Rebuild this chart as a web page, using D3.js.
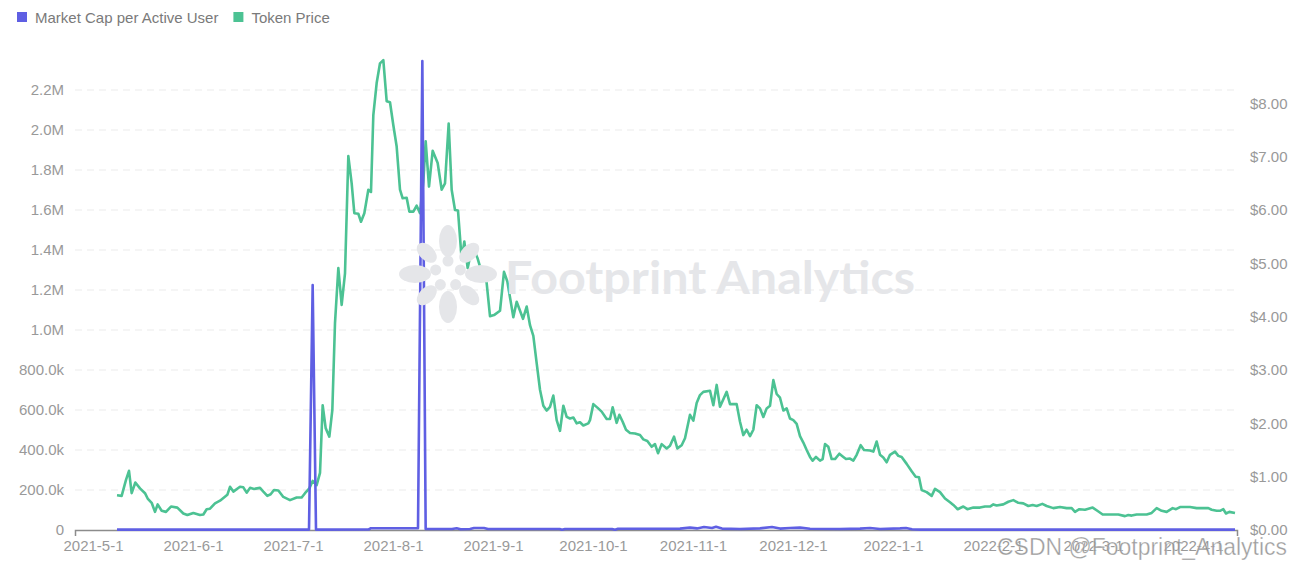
<!DOCTYPE html>
<html>
<head>
<meta charset="utf-8">
<script src="https://cdn.jsdelivr.net/npm/d3@7"></script>
<style>
  body { margin: 0; background: #fff; }
  svg { display: block; font-family: "Liberation Sans", Arial, sans-serif; }
</style>
</head>
<body>
<svg width="1301" height="568"></svg>
<script>
const width = 1301;
const height = 568;
const margin = {top: 60, right: 64, bottom: 38, left: 75};
const plotWidth = width - margin.left - margin.right;
const plotHeight = height - margin.top - margin.bottom;

// x = days since 2021-5-1 (axis labels are spaced every 30 days)
const tickDays = [0, 30, 60, 90, 120, 150, 180, 210, 240, 270, 300, 330];
const tickLabels = ["2021-5-1", "2021-6-1", "2021-7-1", "2021-8-1", "2021-9-1", "2021-10-1",
                    "2021-11-1", "2021-12-1", "2022-1-1", "2022-2-1", "2022-3-1", "2022-4-1"];

const leftTicks = [0, 200000, 400000, 600000, 800000, 1000000, 1200000, 1400000, 1600000, 1800000, 2000000, 2200000];
const leftTickLabels = ["0", "200.0k", "400.0k", "600.0k", "800.0k", "1.0M", "1.2M", "1.4M", "1.6M", "1.8M", "2.0M", "2.2M"];
const rightTicks = [0, 1, 2, 3, 4, 5, 6, 7, 8];

const seriesNames = ["Market Cap per Active User", "Token Price"];
const seriesColors = ["#5f5fe3", "#4cc293"];

// [day, USD]
const tokenPrice = [
  [7.2,0.65],[8.6,0.64],[9.9,0.94],[10.8,1.11],[11.6,0.69],[12.7,0.89],[14.1,0.78],[15.6,0.69],[16.4,0.59],[17.6,0.51],
  [18.6,0.34],[19.4,0.48],[20.6,0.36],[21.9,0.34],[23.4,0.44],[25.3,0.42],[27.1,0.31],[28.3,0.28],[30.1,0.32],[32.1,0.28],
  [33.1,0.29],[34.1,0.39],[35.1,0.40],[36.6,0.50],[38.1,0.55],[39.3,0.61],[40.3,0.66],[41.1,0.81],[42.1,0.72],[44.1,0.81],
  [45.1,0.80],[46.1,0.70],[47.1,0.79],[48.3,0.77],[50.1,0.79],[51.1,0.72],[52.3,0.64],[53.3,0.67],[54.3,0.75],[55.6,0.74],
  [57.1,0.62],[59.1,0.56],[61.1,0.61],[62.6,0.61],[63.6,0.69],[64.9,0.78],[65.9,0.92],[67.1,0.84],[68.1,1.07],[68.9,2.34],
  [69.8,1.91],[70.9,1.75],[71.8,2.25],[72.6,3.88],[73.6,4.91],[74.6,4.22],[75.6,4.81],[76.6,7.01],[77.6,6.50],[78.4,5.94],
  [79.6,5.93],[80.4,5.78],[81.4,5.94],[82.6,6.38],[83.4,6.34],[84.1,7.78],[85.1,8.38],[86.1,8.75],[87.1,8.81],[88.1,8.04],
  [89.1,8.02],[90.1,7.59],[91.1,7.19],[92.1,6.38],[92.9,6.22],[94.1,6.23],[94.9,5.97],[96.1,5.97],[97.1,6.08],[98.1,5.94],
  [99.1,6.53],[99.8,7.29],[100.8,6.44],[101.9,7.11],[103.4,6.88],[104.6,6.38],[105.6,6.50],[106.7,7.62],[107.6,6.38],[108.6,6.00],
  [109.5,5.99],[110.6,5.07],[111.4,5.41],[112.4,4.91],[113.3,5.18],[114.3,5.25],[115.4,5.09],[116.1,4.94],[117.1,4.84],[118.1,4.63],
  [119.1,4.01],[120.3,4.03],[122.1,4.11],[123.3,4.84],[124.3,4.66],[126.1,3.99],[127.1,4.28],[129,3.96],[130.1,4.19],[131.1,3.84],
  [132.1,3.64],[133.1,3.13],[134.1,2.63],[135.1,2.33],[136.1,2.24],[137.1,2.31],[138.1,2.52],[139.1,2.06],[140.1,1.86],[141.1,2.33],
  [142.1,2.12],[143.1,2.09],[144.1,2.11],[145.1,2.00],[146.1,2.02],[147.1,1.96],[148.6,2.00],[149.1,2.06],[150.1,2.36],[151.4,2.29],
  [152.6,2.22],[154.1,2.08],[155.1,2.08],[155.9,2.30],[157.1,2.01],[157.9,2.16],[158.9,2.03],[159.9,1.88],[161.1,1.82],[162.6,1.81],
  [164.1,1.78],[165.1,1.70],[166.3,1.67],[167.6,1.56],[168.6,1.61],[169.5,1.44],[170.6,1.61],[172.1,1.53],[173.1,1.58],[174.3,1.75],
  [175.3,1.53],[176.6,1.59],[177.6,1.72],[179.1,2.16],[180.1,2.05],[181.1,2.38],[182.1,2.53],[183.1,2.59],[185.1,2.61],[186.1,2.34],
  [187.1,2.72],[188.1,2.31],[190.1,2.59],[191.1,2.36],[193.1,2.36],[194.1,2.03],[195.1,1.78],[196.1,1.88],[197.1,1.76],[198.1,1.88],
  [199.1,2.34],[200.1,2.28],[201.1,2.12],[202.1,2.28],[203.1,2.33],[204.1,2.81],[205.1,2.55],[206.1,2.48],[207.1,2.24],[208.1,2.28],
  [209.1,2.09],[210.1,2.06],[211.1,1.99],[212.1,1.76],[213.1,1.64],[214.1,1.50],[215.1,1.37],[215.9,1.30],[216.9,1.37],[218.1,1.30],
  [218.9,1.33],[219.6,1.61],[220.6,1.56],[221.6,1.33],[222.6,1.33],[223.9,1.43],[225.1,1.37],[225.9,1.33],[227.1,1.34],[228.1,1.30],
  [229.1,1.41],[230.3,1.59],[231.3,1.50],[233.1,1.49],[234.1,1.47],[235.1,1.66],[236.1,1.41],[237.1,1.36],[238.1,1.27],[239.1,1.41],
  [240.6,1.47],[241.6,1.39],[242.6,1.37],[244.1,1.24],[245.6,1.10],[246.8,1.00],[247.8,0.99],[248.6,0.75],[250.1,0.71],[251.6,0.64],
  [252.6,0.77],[254.1,0.71],[255.6,0.59],[257.1,0.52],[258.1,0.47],[259.4,0.39],[261.1,0.44],[262.3,0.39],[264.1,0.42],[266.1,0.42],
  [267.6,0.44],[269.1,0.44],[270.1,0.48],[271.1,0.46],[273.1,0.48],[274.6,0.53],[276.1,0.56],[277.6,0.51],[279.1,0.50],[280.6,0.45],
  [281.9,0.47],[283.1,0.45],[284.8,0.49],[286.1,0.45],[288.1,0.41],[290.1,0.43],[292.1,0.41],[293.6,0.41],[294.6,0.34],[295.9,0.39],
  [297.6,0.38],[299.9,0.42],[301.3,0.36],[302.9,0.29],[305.1,0.29],[307.6,0.29],[309.6,0.26],[310.6,0.28],[311.6,0.27],[313.1,0.29],
  [316.1,0.29],[317.6,0.32],[319.1,0.41],[320.6,0.36],[322.1,0.34],[323.9,0.41],[324.9,0.39],[326.1,0.43],[329.1,0.43],[331.1,0.41],
  [334.6,0.41],[335.6,0.38],[337.1,0.36],[338.1,0.36],[339.1,0.39],[339.9,0.31],[340.9,0.34],[342.6,0.32]
];

// [day, market cap per active user]
const marketCapPerUser = [
  [7.2,2000],[64.8,2000],[65.9,1225000],[66.9,2000],[82.7,2500],[83.4,9000],[97.5,9000],[98.8,2345000],[99.8,5000],
  [107.7,5000],[109.1,9000],[110.3,4000],[113.1,5000],[114.3,10000],[117.3,10000],[118.5,5000],[140,5000],[140.7,1000],
  [141.6,5000],[155.7,5000],[156.6,1000],[157.5,6000],[176.1,7000],[179.1,12000],[181.2,8000],[183.3,15000],[185.7,10000],
  [186.9,16000],[188.7,7000],[194.1,5000],[200.1,8000],[203.7,15000],[206.1,7000],[209.1,10000],[212.1,12000],[215.1,6000],
  [224.1,5000],[230.1,7000],[233.1,10000],[236.1,5000],[242.1,8000],[243.9,10000],[245.7,4000],[248.1,2000],[342.6,2000]
];

const svg = d3.select("svg");

// Scales
const x = d3.scaleLinear()
    .domain([-5.4, 343.2])
    .range([0, plotWidth]);

const yLeft = d3.scaleLinear()
    .domain([0, 2350000])
    .range([plotHeight, 0]);

const yRight = d3.scaleLinear()
    .domain([0, 8.8125])
    .range([plotHeight, 0]);

const g = svg.append("g")
    .attr("transform", `translate(${margin.left}, ${margin.top})`);

// Watermark logo + text
const wm = svg.append("g").attr("fill", "#e5e6e9");
const logoCx = 448, logoCy = 274;
[180, 225, 270, 315, 0, 45, 90, 135].forEach((a, i) => {
    const big = i % 2 === 0;
    const r = big ? 33 : 30;
    const rad = a * Math.PI / 180;
    const px = logoCx + r * Math.cos(rad), py = logoCy + r * Math.sin(rad);
    wm.append("ellipse")
      .attr("cx", px)
      .attr("cy", py)
      .attr("rx", big ? 16 : 12)
      .attr("ry", big ? 9 : 7.5)
      .attr("transform", `rotate(${a}, ${px}, ${py})`);
});
[0, 72, 144, 216, 288].forEach(a => {
    const rad = (a - 90) * Math.PI / 180;
    wm.append("circle")
      .attr("cx", logoCx + 13 * Math.cos(rad))
      .attr("cy", logoCy + 13 * Math.sin(rad))
      .attr("r", 5.5);
});
wm.append("text")
    .attr("x", 505)
    .attr("y", 294)
    .attr("font-family", "Lato, 'Open Sans', sans-serif")
    .attr("font-weight", "bold")
    .attr("font-size", "45px")
    .attr("textLength", 410)
    .attr("lengthAdjust", "spacingAndGlyphs")
    .text("Footprint Analytics");

// Grid lines
g.append("g")
  .selectAll("line")
  .data(leftTicks.slice(1))
  .enter().append("line")
  .attr("x1", 0)
  .attr("x2", plotWidth)
  .attr("y1", d => yLeft(d))
  .attr("y2", d => yLeft(d))
  .attr("stroke", "#ebebeb")
  .attr("stroke-dasharray", "7,5");

// Left axis
const leftAxis = g.append("g")
    .call(d3.axisLeft(yLeft)
      .tickValues(leftTicks)
      .tickSize(0)
      .tickPadding(11)
      .tickFormat((d, i) => leftTickLabels[i]));
leftAxis.select(".domain").remove();

// Right axis
const rightAxis = g.append("g")
    .attr("transform", `translate(${plotWidth}, 0)`)
    .call(d3.axisRight(yRight)
      .tickValues(rightTicks)
      .tickSize(0)
      .tickPadding(13)
      .tickFormat(d => "$" + d.toFixed(2)));
rightAxis.select(".domain").remove();

// Bottom axis
const bottomAxis = g.append("g")
    .attr("transform", `translate(0, ${plotHeight})`)
    .call(d3.axisBottom(x)
      .tickValues(tickDays)
      .tickSizeInner(0)
      .tickSizeOuter(6)
      .tickPadding(10)
      .tickFormat((d, i) => tickLabels[i]));
bottomAxis.select(".domain").attr("stroke", "#8c8c8c").attr("stroke-width", 1.5);

svg.selectAll(".tick text")
    .attr("font-size", "15px")
    .attr("font-family", "'Liberation Sans', Arial, sans-serif")
    .attr("fill", "#999");

// Lines
const priceLine = d3.line()
    .x(d => x(d[0]))
    .y(d => yRight(d[1]));

const capLine = d3.line()
    .x(d => x(d[0]))
    .y(d => yLeft(d[1]));

g.append("path")
    .datum(tokenPrice)
    .attr("d", priceLine)
    .attr("fill", "none")
    .attr("stroke", seriesColors[1])
    .attr("stroke-width", 2.6)
    .attr("stroke-linejoin", "round");

g.append("path")
    .datum(marketCapPerUser)
    .attr("d", capLine)
    .attr("fill", "none")
    .attr("stroke", seriesColors[0])
    .attr("stroke-width", 2.6)
    .attr("stroke-linejoin", "round");

// Legend
const legend = svg.append("g").attr("transform", "translate(17, 12)");
let legendX = 0;
seriesNames.forEach((name, i) => {
    const item = legend.append("g").attr("transform", `translate(${legendX}, 0)`);
    item.append("rect")
      .attr("width", 10)
      .attr("height", 10)
      .attr("fill", seriesColors[i]);
    const t = item.append("text")
      .attr("x", 18)
      .attr("y", 10.5)
      .attr("font-size", "15px")
      .attr("fill", "#7a7a7a")
      .text(name);
    legendX += 18 + t.node().getComputedTextLength() + 15;
});

// Site watermark
svg.append("text")
    .attr("x", 997)
    .attr("y", 555)
    .attr("font-size", "23px")
    .attr("fill", "#8a8a8a")
    .attr("fill-opacity", 0.85)
    .attr("stroke", "#fff")
    .attr("stroke-width", 0.6)
    .attr("stroke-opacity", 0.6)
    .attr("textLength", 290)
    .attr("lengthAdjust", "spacingAndGlyphs")
    .text("CSDN @Footprint_Analytics");
</script>
</body>
</html>
